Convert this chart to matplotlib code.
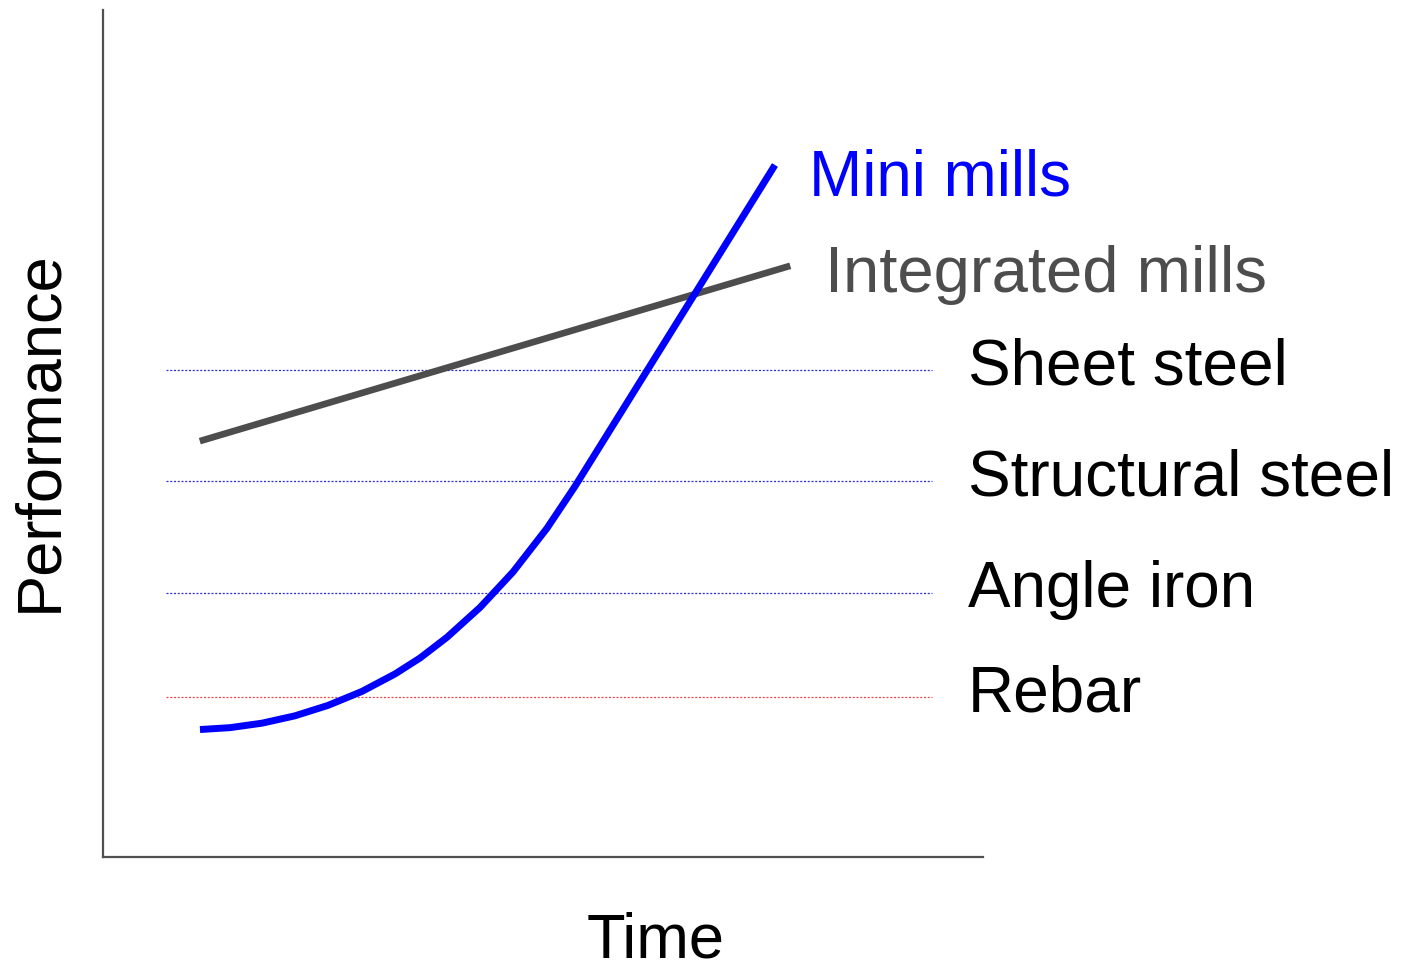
import matplotlib
matplotlib.use("Agg")
import matplotlib.pyplot as plt

# Performance trajectories over time (arbitrary units)
mini_time = [1.102, 1.443, 1.807, 2.182, 2.557, 2.943, 3.318, 3.602, 3.909,
             4.284, 4.659, 5.045, 5.364, 5.875, 6.216, 6.784, 7.239, 7.636]
mini_perf = [1.505, 1.527, 1.580, 1.667, 1.790, 1.955, 2.161, 2.349, 2.594,
             2.946, 3.365, 3.881, 4.377, 5.230, 5.799, 6.747, 7.507, 8.170]
integrated_time = [1.10, 7.81]
integrated_perf = [4.91, 6.98]

# Market tiers and the performance each one demands
tiers = ["Sheet steel", "Structural steel", "Angle iron", "Rebar"]
tier_levels = [5.75, 4.44, 3.12, 1.89]
tier_colors = ["#2a2ad6", "#2a2ad6", "#2a2ad6", "#ee4444"]
tier_span = [0.72, 9.42]

W, H = 1401, 967
fig = plt.figure(figsize=(W / 100, H / 100), dpi=100)
ax = fig.add_axes([103 / W, (H - 857) / H, (983 - 103) / W, (857 - 10) / H])
ax.set_xlim(0, 10)
ax.set_ylim(0, 10)

for s in ("top", "right"):
    ax.spines[s].set_visible(False)
for s in ("left", "bottom"):
    ax.spines[s].set_color("#505050")
    ax.spines[s].set_linewidth(1.6)
ax.set_xticks([])
ax.set_yticks([])

font = "Liberation Sans"

for name, lvl, col in zip(tiers, tier_levels, tier_colors):
    ax.plot(tier_span, [lvl, lvl], color=col, lw=0.9, dashes=(1.6, 1.4))
    ax.text(9.83, lvl - 0.17, name, fontsize=46, family=font, color="black",
            va="baseline", ha="left", clip_on=False)

ax.plot(integrated_time, integrated_perf, color="#4d4d4d", lw=4.8,
        solid_capstyle="butt")
ax.plot(mini_time, mini_perf, color="#0000ff", lw=5.0,
        solid_capstyle="butt", solid_joinstyle="round")

ax.text(mini_time[-1] + 0.39, mini_perf[-1] - 0.36, "Mini mills", fontsize=46,
        family=font, color="#0000ff", va="baseline", ha="left", clip_on=False)
ax.text(integrated_time[-1] + 0.39, integrated_perf[-1] - 0.31, "Integrated mills",
        fontsize=47, family=font, color="#4d4d4d", va="baseline", ha="left",
        clip_on=False)

fig.text(656 / W, 1 - 957 / H, "Time", fontsize=45.5, family=font,
         ha="center", va="baseline")
fig.text(40 / W, 1 - 431 / H, "Performance", fontsize=45.5, family=font,
         rotation=90, ha="center", va="center")

fig.savefig("out.png", dpi=100, facecolor="white")
